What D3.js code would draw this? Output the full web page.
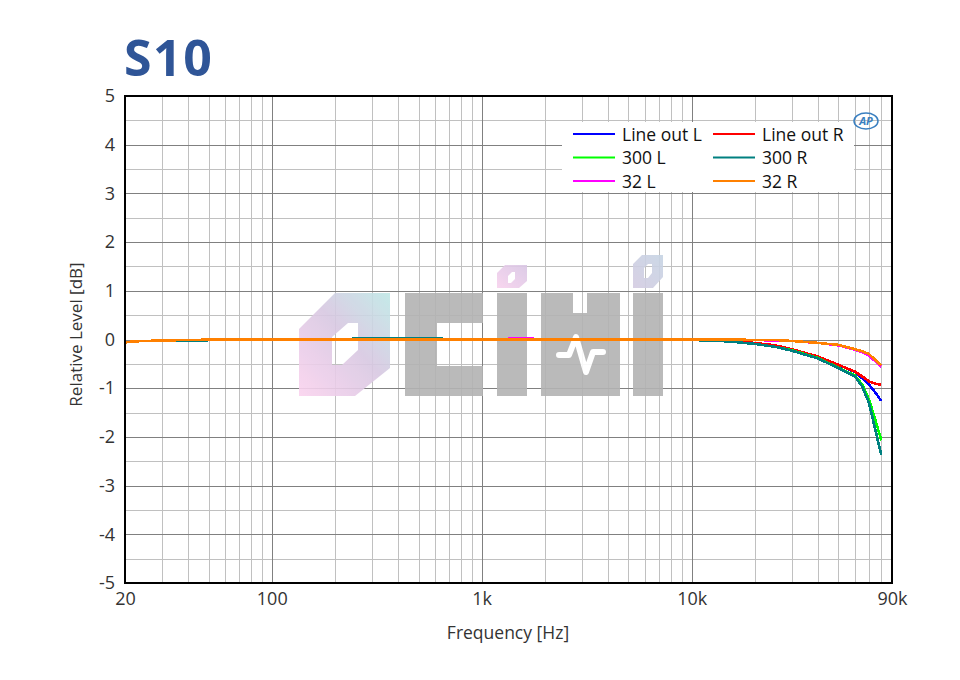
<!DOCTYPE html>
<html><head><meta charset="utf-8">
<script src="https://cdn.jsdelivr.net/npm/d3@7"></script>
<style>body{margin:0;background:#fff;} svg{display:block;font-family:"Open Sans","Noto Sans",sans-serif;}</style>
</head><body><svg id="c" width="960" height="680"></svg>
<script>
const freqs = [20, 22, 25, 30, 40, 60, 100, 200, 300, 500, 700, 1000, 1500, 2000, 5000, 10000, 12000, 15000, 20000, 25000, 30000, 40000, 50000, 60000, 65000, 70000, 75000, 80000];
const lineOutL = [-0.06,-0.04,-0.03,-0.02,-0.02,-0.01,-0.01,-0.01,0.0,0.0,0.0,0.0,0.0,0.0,0.0,-0.01,-0.02,-0.03,-0.07,-0.12,-0.2,-0.35,-0.52,-0.67,-0.8,-0.93,-1.09,-1.26];
const lineOutR = [-0.06,-0.04,-0.03,-0.02,-0.02,-0.01,-0.01,-0.01,0.0,0.0,0.0,0.0,0.0,0.0,0.0,-0.01,-0.02,-0.03,-0.07,-0.12,-0.2,-0.35,-0.52,-0.66,-0.76,-0.86,-0.91,-0.93];
const l300L = [-0.06,-0.04,-0.03,-0.02,-0.02,-0.01,-0.01,0.0,0.02,0.02,0.01,0.0,0.0,0.0,0.0,-0.01,-0.02,-0.04,-0.09,-0.15,-0.22,-0.38,-0.58,-0.74,-0.93,-1.24,-1.65,-2.07];
const l300R = [-0.06,-0.04,-0.03,-0.02,-0.02,-0.01,-0.01,0.0,0.03,0.03,0.01,0.0,0.0,0.0,0.0,-0.01,-0.02,-0.04,-0.09,-0.15,-0.23,-0.39,-0.59,-0.76,-0.97,-1.31,-1.86,-2.37];
const l32L = [-0.06,-0.04,-0.03,-0.02,-0.01,0.0,0.0,0.0,0.0,0.0,0.0,0.0,0.02,0.01,0.0,0.0,0.0,0.0,-0.01,-0.02,-0.03,-0.07,-0.12,-0.21,-0.26,-0.33,-0.45,-0.56];
const l32R = [-0.06,-0.04,-0.03,-0.02,-0.01,0.0,0.0,0.0,0.0,0.0,0.0,0.0,0.0,0.0,0.0,0.0,0.0,0.0,-0.01,-0.01,-0.03,-0.07,-0.11,-0.2,-0.24,-0.3,-0.42,-0.53];
const seriesNames = ["Line out L", "Line out R", "300 L", "300 R", "32 L", "32 R"];
const seriesValues = [lineOutL, lineOutR, l300L, l300R, l32L, l32R];
const seriesColors = ["#0000ff", "#ff0000", "#00ff00", "#008080", "#ff00ff", "#ff8000"];
const xTickValues = [20, 100, 1000, 10000, 90000];
const xTickLabels = ["20", "100", "1k", "10k", "90k"];
const yTickValues = [-5,-4,-3,-2,-1,0,1,2,3,4,5];

const svg = d3.select("#c");
const L = 125, R = 892, T = 96, B = 583;
const x = d3.scaleLog().domain([20, 90000]).range([L, R]);
const y = d3.scaleLinear().domain([-5, 5]).range([B, T]);

// grid
const minorX = [];
for (let e = 1; e <= 4; e++) for (let n = 2; n <= 9; n++) { const v = n * Math.pow(10, e); if (v > 20 && v < 90000) minorX.push(v); }
const majorX = [100, 1000, 10000];
const g = svg.append("g");
g.selectAll(".mx").data(minorX).enter().append("line")
  .attr("x1", d => Math.round(x(d)) + 0.5).attr("x2", d => Math.round(x(d)) + 0.5).attr("y1", T).attr("y2", B)
  .attr("stroke", "#c0c0c0").attr("stroke-width", 1);
const minorY = d3.range(-4.5, 5, 1);
g.selectAll(".my").data(minorY).enter().append("line")
  .attr("y1", d => Math.round(y(d)) + 0.5).attr("y2", d => Math.round(y(d)) + 0.5).attr("x1", L).attr("x2", R)
  .attr("stroke", "#c0c0c0").attr("stroke-width", 1);
g.selectAll(".Mx").data(majorX).enter().append("line")
  .attr("x1", d => Math.round(x(d)) + 0.5).attr("x2", d => Math.round(x(d)) + 0.5).attr("y1", T).attr("y2", B)
  .attr("stroke", "#808080").attr("stroke-width", 1);
g.selectAll(".My").data(yTickValues.slice(1, -1)).enter().append("line")
  .attr("y1", d => Math.round(y(d)) + 0.5).attr("y2", d => Math.round(y(d)) + 0.5).attr("x1", L).attr("x2", R)
  .attr("stroke", "#808080").attr("stroke-width", 1);

// watermark
const wm = svg.append("g").attr("opacity", 0.9);
const defs = svg.append("defs");
const gr = defs.append("linearGradient").attr("id", "wg").attr("x1", "1").attr("y1", "0").attr("x2", "0").attr("y2", "1");
gr.append("stop").attr("offset", "0").attr("stop-color", "#bfe8e6");
gr.append("stop").attr("offset", "0.45").attr("stop-color", "#d8c8e2");
gr.append("stop").attr("offset", "1").attr("stop-color", "#fbd3ef");
const gr2 = defs.append("linearGradient").attr("id", "wg2").attr("x1", "1").attr("y1", "0").attr("x2", "0").attr("y2", "1");
gr2.append("stop").attr("offset", "0").attr("stop-color", "#d8c6e4");
gr2.append("stop").attr("offset", "1").attr("stop-color", "#f8d2ee");
wm.append("path").attr("fill", "url(#wg)").attr("fill-rule", "evenodd")
  .attr("d", "M299,329 L335,293 L390,293 L390,368 L355,396 L299,396 Z M332,337 L348,323 L358,323 L358,350 L342,365 L332,365 Z");
wm.append("path").attr("fill", "#b3b3b3").attr("fill-rule", "evenodd")
  .attr("d", "M405,293 L483,293 L483,323 L437,323 L437,366 L483,366 L483,396 L405,396 Z");
wm.append("rect").attr("x", 497).attr("y", 293).attr("width", 30).attr("height", 103).attr("fill", "#b3b3b3");
wm.append("path").attr("fill", "url(#wg2)").attr("fill-rule", "evenodd")
  .attr("d", "M497,273 L505,265 L527,265 L527,281 L519,288 L497,288 Z M508,276 L512,272 L515,272 L515,279 L511,283 L508,283 Z");
wm.append("path").attr("fill", "#b3b3b3")
  .attr("d", "M541,293 L573,293 L573,313 L587,313 L587,293 L620,293 L620,396 L541,396 Z");
wm.append("path").attr("fill", "none").attr("stroke", "#fff").attr("stroke-width", 6).attr("stroke-linecap", "round").attr("stroke-linejoin", "round")
  .attr("d", "M559,355 L569,355 L576,337 L586,372 L593,352 L603,352");
wm.append("rect").attr("x", 633).attr("y", 293).attr("width", 30).attr("height", 103).attr("fill", "#b3b3b3");
const gr3 = defs.append("linearGradient").attr("id", "wg3").attr("x1", "1").attr("y1", "0").attr("x2", "0").attr("y2", "1");
gr3.append("stop").attr("offset", "0").attr("stop-color", "#c6d4e4");
gr3.append("stop").attr("offset", "1").attr("stop-color", "#d4cce2");
wm.append("path").attr("fill", "url(#wg3)").attr("fill-rule", "evenodd")
  .attr("d", "M633,264 L642,255 L663,255 L663,277 L653,288 L633,288 Z M644,268 L648,264 L652,264 L652,273 L648,278 L644,278 Z");

// curves
const line = d3.line().x((d, i) => x(freqs[i])).y(d => y(d));
svg.append("g").selectAll("path").data(seriesValues).enter().append("path")
  .attr("d", d => line(d)).attr("fill", "none").attr("shape-rendering", "crispEdges")
  .attr("stroke", (d, i) => seriesColors[i]).attr("stroke-width", 2.6).attr("stroke-linejoin", "round");

// legend
const lg = svg.append("g");
lg.append("rect").attr("x", 562).attr("y", 122).attr("width", 292).attr("height", 70).attr("fill", "#fff");
seriesNames.forEach((n, i) => {
  const col = i % 2, row = Math.floor(i / 2);
  const lx = 573 + col * 140, ly = 134 + row * 23.5;
  lg.append("line").attr("x1", lx).attr("x2", lx + 42).attr("y1", ly).attr("y2", ly)
    .attr("stroke", seriesColors[i]).attr("stroke-width", 2);
  lg.append("text").attr("x", lx + 49).attr("y", ly + 6.5).attr("font-size", 17.5).attr("fill", "#111").text(n);
});

// AP logo
const ap = svg.append("g").attr("transform", "translate(866,121)");
ap.append("ellipse").attr("rx", 12).attr("ry", 8).attr("fill", "none").attr("stroke", "#3a7fc0").attr("stroke-width", 1.5);
ap.append("text").attr("x", 0).attr("y", 4).attr("text-anchor", "middle").attr("font-size", 11).attr("font-style", "italic").attr("font-weight", "bold").attr("fill", "#3a7fc0").text("AP");

// frame
svg.append("rect").attr("x", L).attr("y", T).attr("width", R - L).attr("height", B - T)
  .attr("fill", "none").attr("stroke", "#000").attr("stroke-width", 2);

// axes
const xa = svg.append("g").attr("transform", `translate(0,${B})`)
  .call(d3.axisBottom(x).tickValues(xTickValues).tickFormat((d, i) => xTickLabels[i]).tickSize(0).tickPadding(9));
xa.select(".domain").remove();
xa.selectAll("text").attr("font-size", 18).attr("fill", "#333").attr("font-family", '"Open Sans","Noto Sans",sans-serif');
const ya = svg.append("g").attr("transform", `translate(${L},0)`)
  .call(d3.axisLeft(y).tickValues(yTickValues).tickFormat(d => String(d)).tickSize(0).tickPadding(10));
ya.select(".domain").remove();
ya.selectAll("text").attr("font-size", 18).attr("fill", "#333").attr("font-family", '"Open Sans","Noto Sans",sans-serif');

// titles
svg.append("text").attr("x", 508).attr("y", 639).attr("text-anchor", "middle").attr("font-size", 17.5).attr("fill", "#333").text("Frequency [Hz]");
svg.append("text").attr("transform", `translate(82,${(T + B) / 2 - 5}) rotate(-90)`).attr("text-anchor", "middle").attr("font-size", 17).attr("fill", "#333").text("Relative Level [dB]");
svg.append("text").attr("x", 124).attr("y", 76).attr("font-size", 50).attr("font-weight", "bold").attr("letter-spacing", 1.5).attr("fill", "#2f5597").text("S10");
</script></body></html>
